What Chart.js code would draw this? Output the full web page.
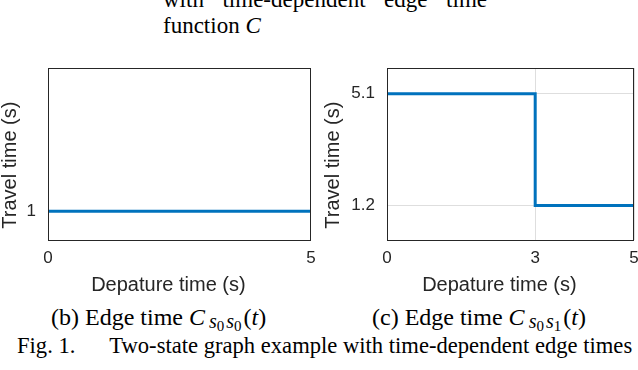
<!DOCTYPE html>
<html>
<head>
<meta charset="utf-8">
<script src="https://cdn.jsdelivr.net/npm/chart.js@4.4.1/dist/chart.umd.min.js"></script>
<style>
  body { margin: 0; width: 638px; height: 370px; background: #fff; position: relative; overflow: hidden; }
  .serif { font-family: "Liberation Serif", "DejaVu Serif", serif; color: #000; position: absolute; white-space: nowrap; font-size: 23px; line-height: 26px; }
  #topText { left: 163px; top: -13px; width: 324px; white-space: normal; }
  #topText .j { display: block; text-align: justify; text-align-last: justify; }
  .sub { top: 304px; font-size: 24px; }
  .s1 { font-size: 20px; position: relative; top: 3px; font-style: italic; margin-left: 2px; margin-right: 2px; }
  .s1 i { margin-left: 2px; }
  .s2 { font-size: 15px; position: relative; top: 3px; font-style: normal; }
  #capB { left: 51px; }
  #capC { left: 372px; }
  #figCap { left: 17px; top: 333px; font-size: 22.6px; }
  .wrap { position: absolute; }
  #wrapB { left: 0; top: 60px; }
  #wrapC { left: 320px; top: 60px; }
</style>
</head>
<body>
<div id="topText" class="serif"><span class="j">with time-dependent edge time</span>function <i>C</i></div>

<div class="wrap" id="wrapB"><canvas id="chartB" width="320" height="240"></canvas></div>
<div class="wrap" id="wrapC"><canvas id="chartC" width="318" height="240"></canvas></div>

<div id="capB" class="serif sub">(b) Edge time <i>C</i><span class="s1"><i>s</i><span class="s2">0</span><i>s</i><span class="s2">0</span></span>(<i>t</i>)</div>
<div id="capC" class="serif sub">(c) Edge time <i>C</i><span class="s1"><i>s</i><span class="s2">0</span><i>s</i><span class="s2">1</span></span>(<i>t</i>)</div>
<div id="figCap" class="serif">Fig. 1.&nbsp;&nbsp;&nbsp;&nbsp;&nbsp;&nbsp;Two-state graph example with time-dependent edge times</div>

<script>
// (b) constant edge time C_s0s0
const timesB = [0, 5];
const valuesB = [1, 1];
const xTicksB = [0, 5];
const yTicksB = [1];

// (c) step edge time C_s0s1
const timesC = [0, 3, 3, 5];
const valuesC = [5.1, 5.1, 1.2, 1.2];
const xTicksC = [0, 3, 5];
const yTicksC = [1.2, 5.1];

const lineColor = "#0072BD";
const axisColor = "#262626";
const sans = "'Liberation Sans', Arial, sans-serif";
// matlab's labels sit a little off centre; trailing blanks nudge them the same way
const pad = "\u00a0\u00a0\u00a0\u00a0";

// draws the full box round the plot area, like matlab's "box on"
const boxPlugin = {
  id: "box",
  afterDraw(chart) {
    const { ctx, chartArea: a } = chart;
    ctx.save();
    ctx.strokeStyle = axisColor;
    ctx.lineWidth = 1;
    ctx.strokeRect(a.left + 0.5, a.top + 0.5, a.right - a.left - 1, a.bottom - a.top);
    ctx.restore();
  },
};

function makeChart(id, times, values, xTicks, yTicks, yMin, yMax, opts) {
  const ctx = document.getElementById(id).getContext("2d");
  return new Chart(ctx, {
    type: "line",
    data: {
      datasets: [
        {
          data: times.map((t, i) => ({ x: t, y: values[i] })),
          borderColor: lineColor,
          borderWidth: 3,
          pointRadius: 0,
          fill: false,
          tension: 0,
        },
      ],
    },
    options: {
      responsive: false,
      animation: false,
      layout: { autoPadding: false, padding: { top: 8, right: opts.right, left: 0, bottom: 0 } },
      plugins: { legend: { display: false }, tooltip: { enabled: false } },
      scales: {
        x: {
          type: "linear",
          min: xTicks[0],
          max: xTicks[xTicks.length - 1],
          afterBuildTicks: (s) => { s.ticks = xTicks.map((v) => ({ value: v })); },
          afterFit: (s) => { s.height = 60; s.paddingLeft = 0; s.paddingRight = 0; },
          grid: { display: opts.grid, color: "#dedede", drawTicks: false },
          border: { display: false },
          ticks: { color: axisColor, font: { family: sans, size: 17 }, padding: 8, maxRotation: 0, callback: (v) => String(v) },
          title: {
            display: true,
            text: "Depature time (s)" + pad,
            color: axisColor,
            font: { family: sans, size: 20, lineHeight: 1 },
            padding: { top: 0, bottom: 5 },
          },
        },
        y: {
          min: yMin,
          max: yMax,
          afterBuildTicks: (s) => { s.ticks = yTicks.map((v) => ({ value: v })); },
          afterFit: (s) => { s.width = opts.yWidth; s.paddingTop = 0; s.paddingBottom = 0; },
          grid: { display: opts.grid, color: "#dedede", drawTicks: false },
          border: { display: false },
          ticks: { color: axisColor, font: { family: sans, size: 17 }, padding: 12, callback: (v) => String(v) },
          title: {
            display: true,
            text: "Travel time (s)" + pad,
            color: axisColor,
            font: { family: sans, size: 20, lineHeight: 1 },
            padding: { top: opts.titlePad, bottom: 0 },
          },
        },
      },
    },
    plugins: [boxPlugin],
  });
}

makeChart("chartB", timesB, valuesB, xTicksB, yTicksB, 0.5, 3.5, { right: 9, yWidth: 48, titlePad: 0, grid: false });
makeChart("chartC", timesC, valuesC, xTicksC, yTicksC, 0, 6, { right: 4, yWidth: 67, titlePad: 3, grid: true });
</script>
</body>
</html>
